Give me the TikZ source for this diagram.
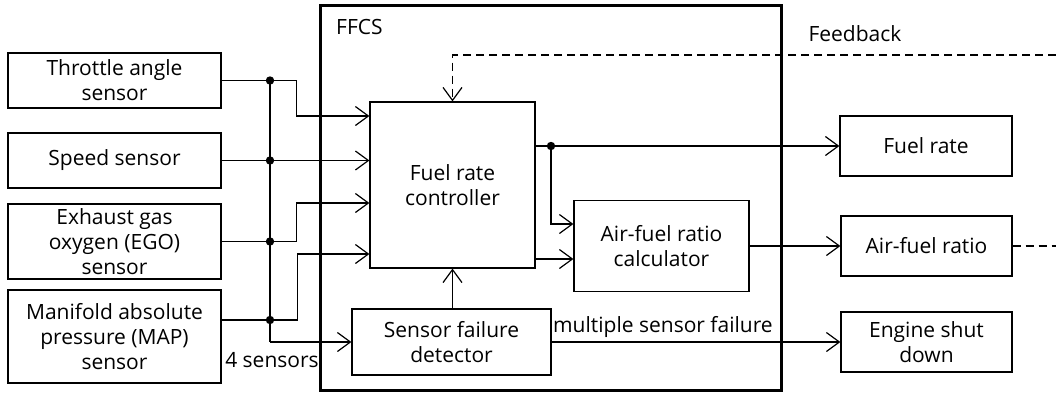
\documentclass[tikz,border=0pt]{standalone}
\usepackage{fontspec}
\setmainfont{Open Sans}
\usetikzlibrary{arrows.meta, positioning, calc}
\tikzset{
  box/.style={rectangle, draw, line width=1.2pt, inner sep=0pt, align=center,
    font=\fontsize{21}{25}\selectfont},
  txt/.style={font=\fontsize{21}{25}\selectfont, inner sep=0pt},
  arrow/.style={-{Straight Barb[length=13pt, width=19pt]}, line width=1.2pt},
  line/.style={line width=1.2pt},
  dashline/.style={line width=1.2pt, dash pattern=on 8pt off 5pt},
  dasharrow/.style={arrow, dash pattern=on 8pt off 5pt}
}
\begin{document}
\begin{tikzpicture}[x=1pt, y=-1pt]
  \useasboundingbox (0,0) rectangle (1056,394);
  % FFCS frame
  \node[box, line width=3pt, minimum width=461pt, minimum height=385pt] (ffcs) at (550.5,197.5) {};
  \node[txt, anchor=west] (ffcslbl) at (336,27) {FFCS};

  % Sensors
  \node[box, minimum width=213pt, minimum height=55pt] (thr) at (114.5,80.5) {Throttle angle\\sensor};
  \node[box, minimum width=213pt, minimum height=55pt] (spd) at (114.5,160.5) {Speed sensor};
  \node[box, minimum width=213pt, minimum height=75pt] (ego) at (114.5,241.5) {Exhaust gas\\oxygen (EGO)\\sensor};
  \node[box, minimum width=213pt, minimum height=93pt] (map) at (114.5,336.5) {Manifold absolute\\pressure (MAP)\\sensor};

  % Blocks inside FFCS
  \node[box, minimum width=165pt, minimum height=166pt] (frc) at (452.5,185) {Fuel rate\\controller};
  \node[box, minimum width=175pt, minimum height=91pt] (afc) at (661.5,246) {Air-fuel ratio\\calculator};
  \node[box, minimum width=199pt, minimum height=66pt] (sfd) at (451.5,342) {Sensor failure\\detector};

  % Outputs
  \node[box, minimum width=172pt, minimum height=60pt] (fuel) at (926,146) {Fuel rate};
  \node[box, minimum width=171pt, minimum height=60pt] (afr) at (926.5,246) {Air-fuel ratio};
  \node[box, minimum width=171pt, minimum height=60pt] (esd) at (926.5,342) {Engine shut\\down};

  % Junctions
  \coordinate (j1) at (270,80.5);
  \coordinate (j2) at (270,160.5);
  \coordinate (j3) at (270,241.5);
  \coordinate (j4) at (270,320);
  \coordinate (jb) at (270,342);
  \coordinate (j5) at (551,146);
  \coordinate (fb) at (1056,55);
  \coordinate (fbout) at (1056,246);

  % Sensor bus
  \draw[line] (j1) -- (jb);
  \draw[arrow] (thr.east) -- ++(75,0) |- (frc.west |- 0,116);
  \draw[arrow] (spd.east) -- (frc.west |- spd.east);
  \draw[arrow] (ego.east) -- ++(75,0) |- (frc.west |- 0,203);
  \draw[arrow] (map.east |- j4) -- ++(76,0) |- (frc.west |- 0,254);
  \draw[arrow] (jb) -- (sfd.west |- jb);
  \node[txt] (four) at (272,360) {4 sensors};

  % Internal flows
  \draw[arrow] (frc.south |- sfd.north) -- (frc.south);
  \draw[arrow] (frc.east |- j5) -- (fuel.west);
  \draw[arrow] (j5) |- (afc.west |- 0,224);
  \draw[arrow] (frc.east |- 0,259) -- (afc.west |- 0,259);
  \draw[arrow] (afc.east) -- (afr.west);
  \draw[arrow] (sfd.east) -- (esd.west)
    node[txt, pos=0, anchor=south west, yshift=4pt, xshift=1pt] (msf) {multiple sensor failure};

  % Feedback
  \draw[dasharrow] (fb) -| (frc.north);
  \draw[dashline] (afr.east) -- (fbout);
  \node[txt] (fblbl) at (855,34) {Feedback};

  \foreach \j in {j1,j2,j3,j4,j5} \fill (\j) circle (4.2pt);
\end{tikzpicture}
\end{document}
